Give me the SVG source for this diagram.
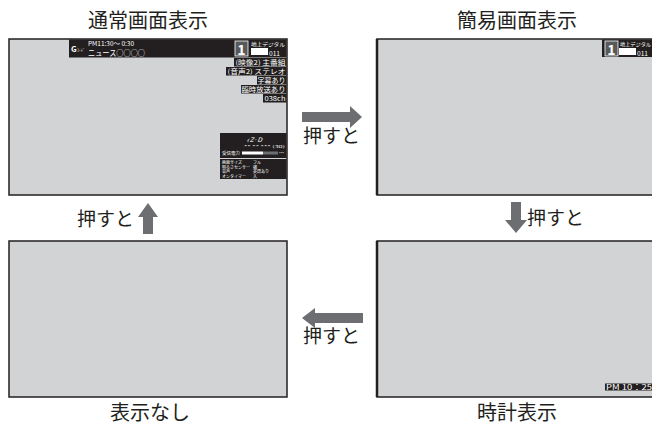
<svg xmlns="http://www.w3.org/2000/svg" width="652" height="425" viewBox="0 0 652 425">
<defs>
<style>
.lbl{font-family:"Noto Sans CJK JP","Noto Sans",sans-serif;fill:#231f20}
.ttl{font-size:20px;text-anchor:middle}
.push{font-size:19px}
.scr{fill:#d1d3d4;stroke:#231f20;stroke-width:1.5}
.blk{fill:#231f20}
.wt{font-family:"Noto Sans CJK JP","Noto Sans",sans-serif;fill:#ffffff}
.row{font-size:6.5px;text-anchor:end}
.arr{fill:#6d6e71}
</style>
</defs>
<rect width="652" height="425" fill="#ffffff"/>

<g id="normal">
<rect class="scr" x="9" y="39" width="278" height="156"/>
<rect class="blk" x="69" y="39.5" width="217.5" height="18"/>
<text class="wt" x="71" y="52" font-size="8" font-weight="bold">G</text>
<text class="wt" x="77" y="52" font-size="4" textLength="8" lengthAdjust="spacingAndGlyphs">ｺｰﾄﾞ</text>
<text class="wt" x="88" y="46" font-size="6.5" textLength="46" lengthAdjust="spacingAndGlyphs">PM11:30〜 0:30</text>
<text class="wt" x="88" y="56" font-size="8" textLength="57" lengthAdjust="spacingAndGlyphs">ニュース○○○○</text>
<rect x="235" y="41" width="13" height="15" fill="#58595b" stroke="#ffffff" stroke-width="0.8"/>
<text class="wt" x="241.5" y="54.5" font-size="14" font-weight="bold" text-anchor="middle">1</text>
<text class="wt" x="251" y="46" font-size="5" textLength="34" lengthAdjust="spacingAndGlyphs">地上デジタル</text>
<rect x="251" y="48" width="17" height="7" fill="#ffffff"/>
<text class="wt" x="269" y="55.5" font-size="7" textLength="11" lengthAdjust="spacingAndGlyphs">011</text>
<rect class="blk" x="234" y="58" width="52.5" height="8.5"/>
<text class="wt row" x="285.5" y="65" textLength="50" lengthAdjust="spacingAndGlyphs">(映像2) 主番組</text>
<rect class="blk" x="226" y="67" width="60.5" height="8.5"/>
<text class="wt row" x="285.5" y="74" textLength="58" lengthAdjust="spacingAndGlyphs">(音声2) ステレオ</text>
<rect class="blk" x="257" y="76" width="29.5" height="8.5"/>
<text class="wt row" x="285.5" y="83" textLength="28" lengthAdjust="spacingAndGlyphs">字幕あり</text>
<rect class="blk" x="241" y="85" width="45.5" height="8.5"/>
<text class="wt row" x="285.5" y="92" textLength="44" lengthAdjust="spacingAndGlyphs">臨時放送あり</text>
<rect class="blk" x="263" y="94" width="23.5" height="8.5"/>
<text class="wt row" x="285.5" y="101" textLength="21" lengthAdjust="spacingAndGlyphs">038ch</text>
<rect class="blk" x="220" y="133" width="66.5" height="25"/>
<text class="wt" x="246" y="142" font-size="6" font-style="italic" textLength="16" lengthAdjust="spacingAndGlyphs">ｨZ·D</text>
<text class="wt" x="244" y="148" font-size="3.5" textLength="41" lengthAdjust="spacingAndGlyphs">**    **    ***    (30)</text>
<text class="wt" x="222" y="154.5" font-size="4" textLength="18" lengthAdjust="spacingAndGlyphs">受信電力</text>
<rect x="242" y="151.5" width="21" height="3" fill="#ffffff"/>
<rect x="263" y="151.5" width="15" height="3" fill="#6d6e71"/>
<text class="wt" x="279" y="154.5" font-size="3.5">***</text>
<rect class="blk" x="220" y="159" width="66.5" height="20"/>
<g font-size="4">
<text class="wt" x="222" y="164">画面サイズ</text>
<text class="wt" x="253" y="164">フル</text>
<text class="wt" x="222" y="168.5">明るさセンサー</text>
<text class="wt" x="253" y="168.5">強</text>
<text class="wt" x="222" y="173">音声</text>
<text class="wt" x="253" y="173">英語あり</text>
<text class="wt" x="222" y="177.5">オンタイマー</text>
<text class="wt" x="253" y="177.5">入</text>
</g>
</g>

<g id="simple">
<rect class="scr" x="377" y="39" width="285" height="156"/>
<line x1="377" y1="39" x2="377" y2="195" stroke="#231f20" stroke-width="2.5"/>
<rect class="blk" x="602" y="39.5" width="50" height="17.5"/>
<rect x="605" y="41" width="13" height="15" fill="#58595b" stroke="#ffffff" stroke-width="0.8"/>
<text class="wt" x="611.5" y="54.5" font-size="14" font-weight="bold" text-anchor="middle">1</text>
<text class="wt" x="620" y="46" font-size="5" textLength="31" lengthAdjust="spacingAndGlyphs">地上デジタル</text>
<rect x="619" y="48" width="17" height="7" fill="#ffffff"/>
<text class="wt" x="637" y="55.5" font-size="7" textLength="11" lengthAdjust="spacingAndGlyphs">011</text>
</g>

<g id="none">
<rect class="scr" x="9" y="241" width="278" height="156"/>
</g>

<g id="clock">
<rect class="scr" x="377" y="241" width="285" height="156"/>
<line x1="377" y1="241" x2="377" y2="397" stroke="#231f20" stroke-width="2.5"/>
<rect class="blk" x="605" y="383.5" width="47" height="7"/>
<text class="wt" x="606" y="390" font-size="7.5" textLength="46" lengthAdjust="spacingAndGlyphs">PM 10：25</text>
</g>

<g id="labels">
<text class="lbl ttl" x="148" y="28">通常画面表示</text>
<text class="lbl ttl" x="517" y="28">簡易画面表示</text>
<text class="lbl ttl" x="150" y="420" font-size="19">表示なし</text>
<text class="lbl ttl" x="517" y="420" font-size="19">時計表示</text>
</g>

<g id="connectors">
<polygon class="arr" points="302,112 350,112 350,106 362,117 350,128 350,122 302,122"/>
<text class="lbl push" x="303" y="143">押すと</text>
<polygon class="arr" points="511,202 521,202 521,220 527,220 516,233 505,220 511,220"/>
<text class="lbl push" x="527" y="225">押すと</text>
<polygon class="arr" points="363,313 315,313 315,308 302,318 315,328 315,323 363,323"/>
<text class="lbl push" x="303" y="343">押すと</text>
<polygon class="arr" points="143,234 153,234 153,217 158,217 148,203 138,217 143,217"/>
<text class="lbl push" x="77" y="226">押すと</text>
</g>
</svg>
